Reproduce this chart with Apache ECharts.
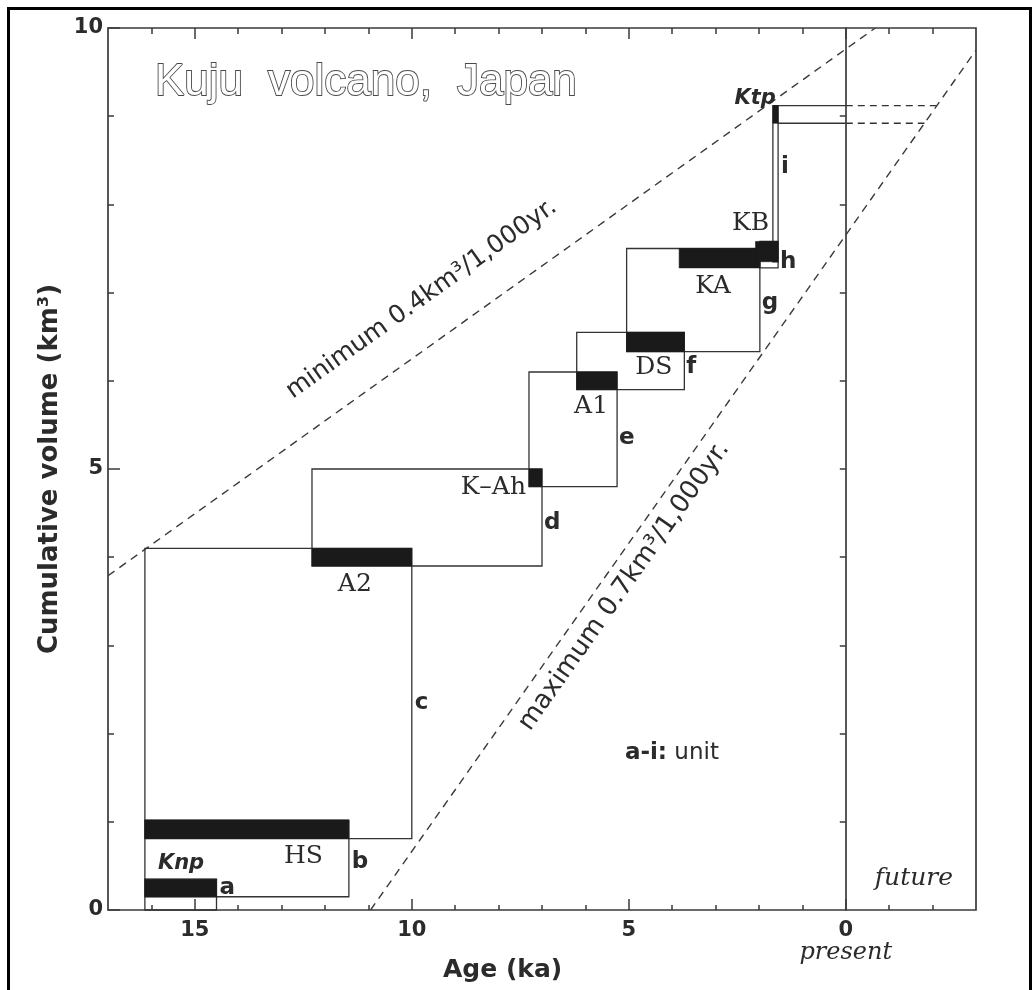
<!DOCTYPE html>
<html>
<head>
<meta charset="utf-8">
<script src="https://cdn.jsdelivr.net/npm/echarts@6/dist/echarts.min.js"></script>
<style>
  html, body { margin: 0; padding: 0; background: #fff; }
  #chart { width: 1035px; height: 990px; }
</style>
</head>
<body>
<div id="chart"></div>
<script>
// ---- Axis ticks: age in ka (before present) and cumulative volume in km3 ----
const ageTicksMajor = [15, 10, 5, 0];
const ageTicksMinor = [16, 14, 13, 12, 11, 9, 8, 7, 6, 4, 3, 2, 1, -1, -2];
const volTicksMajor = [0, 5, 10];
const volTicksMinor = [1, 2, 3, 4, 6, 7, 8, 9];
const volTicksPresent = [1, 2, 3, 4, 5, 6, 7, 8, 9];

// ---- Eruptive units a-i: age span (older -> younger) and cumulative volume span ----
const unitNames    = ['a', 'b', 'c', 'd', 'e', 'f', 'g', 'h', 'i'];
const unitAgeOld   = [16.15, 16.15, 16.15, 12.3, 7.3, 6.2, 5.05, 1.98, 1.68];
const unitAgeYoung = [14.5, 11.45, 10.0, 7.0, 5.27, 3.72, 1.98, 1.56, 1.56];
const unitVolLow   = [0, 0.15, 0.81, 3.9, 4.8, 5.9, 6.33, 7.28, 7.35];
const unitVolHigh  = [0.35, 1.02, 4.1, 5.0, 6.1, 6.55, 7.5, 7.58, 9.12];

// ---- Key tephra layers (black bars) ----
const tephraNames    = ['Knp', 'HS', 'A2', 'K\u2013Ah', 'A1', 'DS', 'KA', 'KB', 'Ktp'];
const tephraAgeOld   = [16.15, 16.15, 12.3, 7.3, 6.2, 5.05, 3.84, 2.08, 1.68];
const tephraAgeYoung = [14.5, 11.45, 10.0, 7.0, 5.27, 3.72, 1.98, 1.56, 1.56];
const tephraVolLow   = [0.15, 0.81, 3.9, 4.8, 5.9, 6.33, 7.28, 7.35, 8.92];
const tephraVolHigh  = [0.35, 1.02, 4.1, 5.0, 6.1, 6.55, 7.5, 7.58, 9.12];

// ---- Eruption-rate envelopes [age, volume] ----
const minRateLine = [[17, 3.79], [-0.68, 10]];
const maxRateLine = [[10.95, 0], [-3, 9.75]];
const minRateText = 'minimum 0.4km\u00b3/1,000yr.';
const maxRateText = 'maximum 0.7km\u00b3/1,000yr.';

// ---- styling ----
const ink = '#2b2b2b';
const frame = '#3a3a3a';
const sansBold = '"DejaVu Sans", sans-serif';
const serif = '"DejaVu Serif", serif';

// label placement relative to bar corners (tl/tr/bl/br), pixel nudges
const tephraLabelLayout = [
  { corner: 'tl', align: 'left',  dx: 13,  dy: -16, italicSans: true }, // Knp
  { corner: 'br', align: 'right', dx: -26, dy: 18 },  // HS
  { corner: 'br', align: 'right', dx: -40, dy: 18 },  // A2
  { corner: 'bl', align: 'right', dx: -3,  dy: 1 },   // K-Ah
  { corner: 'br', align: 'right', dx: -9,  dy: 17 },  // A1
  { corner: 'br', align: 'right', dx: -12, dy: 16 },  // DS
  { corner: 'br', align: 'right', dx: -29, dy: 19 },  // KA
  { corner: 'tr', align: 'right', dx: -9,  dy: -18 }, // KB
  { corner: 'tl', align: 'right', dx: 3,   dy: -7, italicSans: true }   // Ktp
];
// unit letters sit just right of each unit box, nudged from its mid-height
const unitLabelShift = [[3, -7], [3, 4], [3, 10], [2, 6], [2, 9], [2, 6], [2, 3], [2, 7], [3, -17]];

function lineVolAt(line, age) {
  const [a1, v1] = line[0], [a2, v2] = line[1];
  return v1 + (v2 - v1) * (age - a1) / (a2 - a1);
}
function lineAgeAt(line, vol) {
  const [a1, v1] = line[0], [a2, v2] = line[1];
  return a1 + (a2 - a1) * (vol - v1) / (v2 - v1);
}
function rectShape(api, a0, a1, v0, v1) {
  const p = api.coord([a0, v1]);
  const q = api.coord([a1, v0]);
  return {
    x: Math.min(p[0], q[0]), y: Math.min(p[1], q[1]),
    width: Math.abs(q[0] - p[0]), height: Math.abs(q[1] - p[1])
  };
}

const xBase = {
  type: 'value', min: -3, max: 17, inverse: true,
  splitLine: { show: false },
  axisLine: { show: false, onZero: false },
  axisLabel: { show: false },
  axisTick: { show: false }
};
const yBase = {
  type: 'value', min: 0, max: 10,
  splitLine: { show: false },
  axisLine: { show: false, onZero: false },
  axisLabel: { show: false },
  axisTick: { show: false }
};
const tickStyle = { color: frame, width: 1.5 };

const option = {
  backgroundColor: '#ffffff',
  animation: false,
  grid: {
    left: 108, right: 59, top: 28, bottom: 80,
    show: true, borderColor: frame, borderWidth: 1.7,
    backgroundColor: 'transparent',
    outerBoundsMode: 'none'
  },
  xAxis: [
    Object.assign({}, xBase, {
      position: 'bottom',
      axisTick: { show: true, inside: true, length: 11, customValues: ageTicksMajor, lineStyle: tickStyle },
      axisLabel: {
        show: true, customValues: ageTicksMajor, margin: 10,
        formatter: v => (v === 0 ? '{n|0}\n{p|present}' : '{n|' + v + '}'),
        rich: {
          n: { fontFamily: sansBold, fontWeight: 'bold', fontSize: 21, color: ink, lineHeight: 22 },
          p: { fontFamily: serif, fontStyle: 'italic', fontSize: 24, color: ink, lineHeight: 22 }
        }
      }
    }),
    Object.assign({}, xBase, {
      position: 'bottom',
      axisTick: { show: true, inside: true, length: 5, customValues: ageTicksMinor, lineStyle: tickStyle }
    }),
    Object.assign({}, xBase, {
      position: 'top',
      axisTick: { show: true, inside: true, length: 11, customValues: ageTicksMajor, lineStyle: tickStyle }
    }),
    Object.assign({}, xBase, {
      position: 'top',
      axisTick: { show: true, inside: true, length: 6, customValues: ageTicksMinor, lineStyle: tickStyle }
    })
  ],
  yAxis: [
    Object.assign({}, yBase, {
      position: 'left',
      name: 'Cumulative volume (km\u00b3)',
      nameLocation: 'middle',
      nameGap: 38,
      nameTextStyle: { fontFamily: sansBold, fontWeight: 'bold', fontSize: 26, color: ink },
      axisTick: { show: true, inside: true, length: 12, customValues: volTicksMajor, lineStyle: tickStyle },
      axisLabel: {
        show: true, customValues: volTicksMajor, margin: 5,
        fontFamily: sansBold, fontWeight: 'bold', fontSize: 21, color: ink
      }
    }),
    Object.assign({}, yBase, {
      position: 'left',
      axisTick: { show: true, inside: true, length: 6, customValues: volTicksMinor, lineStyle: tickStyle }
    }),
    // the "present" line: a volume axis sitting at age 0
    Object.assign({}, yBase, {
      position: 'right',
      axisLine: { show: true, onZero: true, onZeroAxisIndex: 0, lineStyle: { color: frame, width: 1.7 } },
      axisTick: { show: true, inside: true, length: 6, customValues: volTicksPresent, lineStyle: tickStyle }
    })
  ],
  series: [
    // rate envelopes
    {
      type: 'line', name: 'minimum rate', data: minRateLine, symbol: 'none', silent: true, clip: true, z: 1,
      lineStyle: { color: '#3a3a3a', width: 1.4, type: [8, 6] }
    },
    {
      type: 'line', name: 'maximum rate', data: maxRateLine, symbol: 'none', silent: true, clip: true, z: 1,
      lineStyle: { color: '#3a3a3a', width: 1.4, type: [8, 6] }
    },
    // unit boxes
    {
      type: 'custom', name: 'units', silent: true, z: 2,
      data: unitNames.map((_, i) => [unitAgeOld[i], unitAgeYoung[i], unitVolLow[i], unitVolHigh[i]]),
      encode: { x: [0, 1], y: [2, 3] },
      renderItem: (params, api) => ({
        type: 'rect',
        shape: rectShape(api, api.value(0), api.value(1), api.value(2), api.value(3)),
        style: { fill: 'none', stroke: '#333', lineWidth: 1.3 }
      })
    },
    // Ktp volume carried to the present and projected to the maximum envelope
    {
      type: 'custom', name: 'Ktp projection', silent: true, z: 2,
      data: [[tephraVolHigh[8]], [tephraVolLow[8]]],
      encode: { y: 0 },
      renderItem: (params, api) => {
        const v = api.value(0);
        const start = api.coord([tephraAgeYoung[8], v]);
        const now = api.coord([0, v]);
        const end = api.coord([lineAgeAt(maxRateLine, v), v]);
        return {
          type: 'group',
          children: [
            { type: 'line', shape: { x1: start[0], y1: start[1], x2: now[0], y2: now[1] },
              style: { stroke: '#333', lineWidth: 1.3 } },
            { type: 'line', shape: { x1: now[0], y1: now[1], x2: end[0], y2: end[1] },
              style: { stroke: '#333', lineWidth: 1.3, lineDash: [7, 5] } }
          ]
        };
      }
    },
    // tephra bars
    {
      type: 'custom', name: 'tephra', silent: true, z: 3,
      data: tephraNames.map((_, i) => [tephraAgeOld[i], tephraAgeYoung[i], tephraVolLow[i], tephraVolHigh[i]]),
      encode: { x: [0, 1], y: [2, 3] },
      renderItem: (params, api) => ({
        type: 'rect',
        shape: rectShape(api, api.value(0), api.value(1), api.value(2), api.value(3)),
        style: { fill: '#1a1a1a', stroke: '#1a1a1a', lineWidth: 0.6 }
      })
    },
    // unit letters
    {
      type: 'custom', name: 'unit labels', silent: true, z: 4,
      data: unitNames.map((_, i) => [unitAgeYoung[i], (unitVolLow[i] + unitVolHigh[i]) / 2]),
      encode: { x: 0, y: 1 },
      renderItem: (params, api) => {
        const i = params.dataIndex;
        const p = api.coord([api.value(0), api.value(1)]);
        return {
          type: 'text',
          x: p[0] + unitLabelShift[i][0], y: p[1] + unitLabelShift[i][1],
          style: {
            text: unitNames[i], fill: ink, align: 'left', verticalAlign: 'middle',
            font: 'bold 23px ' + sansBold
          }
        };
      }
    },
    // tephra names
    {
      type: 'custom', name: 'tephra labels', silent: true, z: 4,
      data: tephraNames.map((_, i) => [tephraAgeOld[i], tephraAgeYoung[i], tephraVolLow[i], tephraVolHigh[i]]),
      encode: { x: [0, 1], y: [2, 3] },
      renderItem: (params, api) => {
        const i = params.dataIndex;
        const L = tephraLabelLayout[i];
        const age = L.corner[1] === 'l' ? api.value(0) : api.value(1);
        const vol = L.corner[0] === 't' ? api.value(3) : api.value(2);
        const p = api.coord([age, vol]);
        return {
          type: 'text',
          x: p[0] + L.dx, y: p[1] + L.dy,
          style: {
            text: tephraNames[i], fill: ink, align: L.align, verticalAlign: 'middle',
            font: L.italicSans ? 'italic bold 21px ' + sansBold : '25px ' + serif
          }
        };
      }
    },
    // rate labels written along the envelopes
    {
      type: 'custom', name: 'rate labels', silent: true, z: 4,
      data: [[0], [1]],
      renderItem: (params, api) => {
        const spec = params.dataIndex === 0
          ? { line: minRateLine, text: minRateText, at: 9.2, off: 43, size: 25 }
          : { line: maxRateLine, text: maxRateText, at: 5.5, off: -21, size: 26 };
        const p1 = api.coord(spec.line[0]);
        const p2 = api.coord(spec.line[1]);
        let dx = p2[0] - p1[0], dy = p2[1] - p1[1];
        const len = Math.hypot(dx, dy);
        dx /= len; dy /= len;
        const nx = dy, ny = -dx; // normal pointing up-left
        const foot = api.coord([spec.at, lineVolAt(spec.line, spec.at)]);
        return {
          type: 'text',
          x: foot[0] + nx * spec.off, y: foot[1] + ny * spec.off,
          rotation: Math.atan2(-dy, dx),
          style: {
            text: spec.text, fill: ink, align: 'center', verticalAlign: 'middle',
            font: spec.size + 'px ' + sansBold
          }
        };
      }
    },
    // region notes
    {
      type: 'custom', name: 'notes', silent: true, z: 4,
      data: [[-1.57, 0.36], [5.09, 1.78]],
      encode: { x: 0, y: 1 },
      renderItem: (params, api) => {
        const p = api.coord([api.value(0), api.value(1)]);
        if (params.dataIndex === 0) {
          return {
            type: 'text', x: p[0], y: p[1],
            style: { text: 'future', fill: ink, align: 'center', verticalAlign: 'middle',
                     font: 'italic 25px ' + serif }
          };
        }
        return {
          type: 'text', x: p[0], y: p[1],
          style: {
            text: '{b|a-i:}{r| unit}', align: 'left', verticalAlign: 'middle',
            rich: {
              b: { fontFamily: sansBold, fontWeight: 'bold', fontSize: 23, fill: ink },
              r: { fontFamily: sansBold, fontSize: 23, fill: ink }
            }
          }
        };
      }
    }
  ],
  graphic: [
    {
      type: 'rect', silent: true, z: 10,
      shape: { x: 8.5, y: 8.5, width: 1022, height: 1000 },
      style: { fill: 'none', stroke: '#000', lineWidth: 3 }
    },
    {
      type: 'text', silent: true, x: 155, y: 83,
      style: {
        text: '{w|Kuju}{g| }{w|volcano,}{g| }{w|Japan}',
        verticalAlign: 'middle', fill: '#fff', stroke: '#4a4a4a', lineWidth: 1.8,
        rich: {
          w: { fontFamily: '"Liberation Sans", Arial, sans-serif', fontSize: 44, fill: '#fff', stroke: '#4a4a4a', lineWidth: 1.8 },
          g: { fontFamily: '"Liberation Sans", Arial, sans-serif', fontSize: 44, width: 25 }
        }
      }
    },
    {
      type: 'text', silent: true, x: 443, y: 970,
      style: { text: 'Age (ka)', fill: ink, verticalAlign: 'middle', font: 'bold 25px ' + sansBold }
    }
  ]
};

const chart = echarts.init(document.getElementById('chart'), null, { renderer: 'canvas' });
chart.setOption(option);
</script>
</body>
</html>
